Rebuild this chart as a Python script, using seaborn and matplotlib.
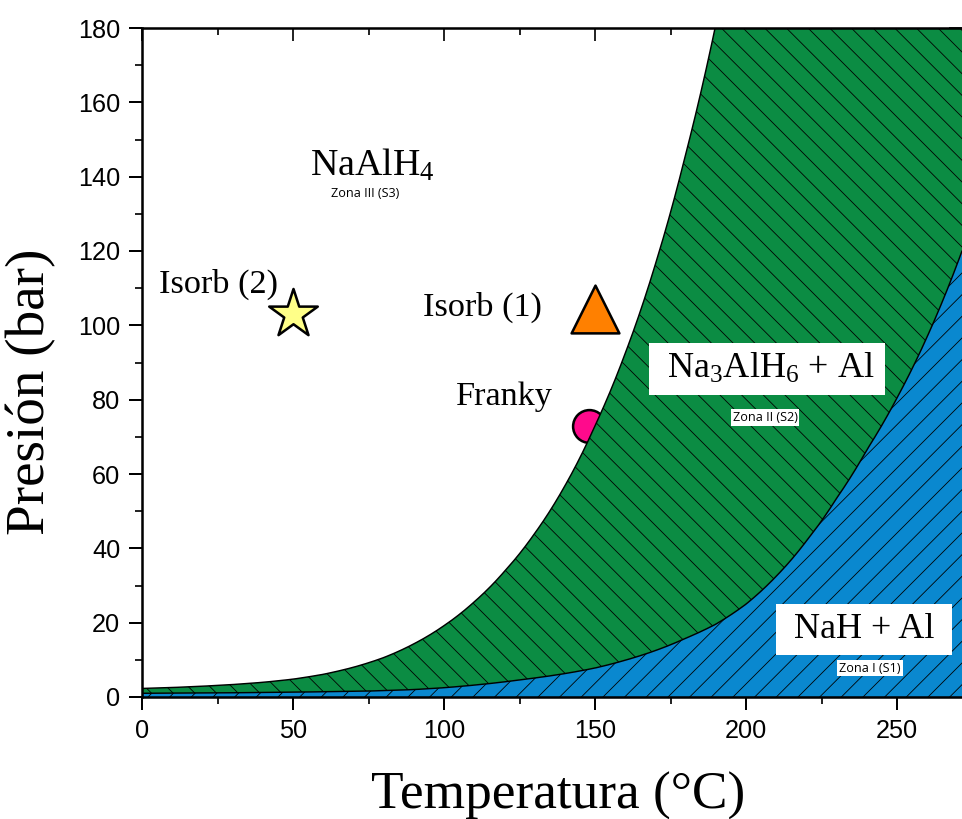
import numpy as np
import matplotlib
matplotlib.use("Agg")
import matplotlib.pyplot as plt
from matplotlib.ticker import MultipleLocator
import seaborn as sns

# values (T in °C, P in bar)
# NaAlH4 <-> Na3AlH6 + Al equilibrium line
t_s3 = [0, 10, 20, 30, 40, 50, 60, 70, 80, 90, 100, 110, 120, 130, 140, 150, 160, 170, 180, 190]
p_s3 = [2.3, 2.55, 2.9, 3.35, 3.95, 4.8, 6.1, 8.0, 10.6, 14.3, 19.2, 25.6, 33.8, 44.0, 56.8, 73, 92.5, 116.5, 146, 181]

# Na3AlH6 <-> NaH + Al equilibrium line
t_s2 = [0, 25, 50, 75, 90, 100, 110, 125, 140, 150, 160, 170, 180, 190, 200, 210, 220, 230, 240, 250, 260, 271.5]
p_s2 = [1.0, 1.1, 1.3, 1.6, 2.0, 2.5, 3.2, 4.6, 6.3, 7.8, 9.9, 12.5, 15.8, 19.6, 25, 32.5, 42, 53.5, 66.5, 80.5, 97, 120]

# operating points
point_names = ["Isorb (2)", "Isorb (1)", "Franky"]
point_t = [50, 150, 148]
point_p = [103, 104.5, 73]

x_ticks = [0, 50, 100, 150, 200, 250]
y_ticks = [0, 20, 40, 60, 80, 100, 120, 140, 160, 180]

green = "#0B8C43"
blue = "#0A88CF"
serif = "Liberation Serif"

sns.set_theme(style="ticks")
plt.rcParams["font.family"] = ["Liberation Sans", "DejaVu Sans"]
plt.rcParams["mathtext.default"] = "regular"
plt.rcParams["hatch.linewidth"] = 0.45
plt.rcParams["text.color"] = "black"
plt.rcParams["axes.labelcolor"] = "black"

fig = plt.figure(figsize=(7.4, 6.3), dpi=130)
ax = fig.add_axes([142 / 962, 122 / 819, 820 / 962, 669 / 819])

# join the read points in log space (pressure grows roughly exponentially)
xs = np.linspace(0, 271.5, 1200)
low = np.exp(np.interp(xs, t_s2, np.log(p_s2)))
high = np.exp(np.interp(xs, t_s3, np.log(p_s3)))
ax.fill_between(xs, 0, low, facecolor=blue, edgecolor="black", hatch="//", linewidth=0, zorder=2)
ax.fill_between(xs, low, high, facecolor=green, edgecolor="black", hatch="\\\\", linewidth=0, zorder=2)

on_s3 = xs <= t_s3[-1]
sns.lineplot(x=xs[on_s3], y=high[on_s3], color="black", linewidth=0.8, ax=ax, zorder=3)
sns.lineplot(x=xs, y=low, color="black", linewidth=0.8, ax=ax, zorder=3)

# markers
sns.scatterplot(x=[point_t[0]], y=[point_p[0]], marker="*", s=800, color="#FFFF88",
                edgecolor="black", linewidth=1.4, zorder=4, ax=ax)
sns.scatterplot(x=[point_t[1]], y=[point_p[1]], marker="^", s=700, color="#FF8000",
                edgecolor="black", linewidth=1.4, zorder=4, ax=ax)
sns.scatterplot(x=[point_t[2]], y=[point_p[2]], marker="o", s=330, color="#FF0A8C",
                edgecolor="black", linewidth=1.4, zorder=1.5, ax=ax)

# point labels
ax.text(5.6, 108.8, point_names[0], family=serif, fontsize=19, va="baseline", ha="left")
ax.text(93.0, 102.6, point_names[1], family=serif, fontsize=19, va="baseline", ha="left")
ax.text(104.0, 78.6, point_names[2], family=serif, fontsize=19, va="baseline", ha="left")

# zone labels
ax.text(55.6, 140.2, r"$NaAlH_4$", family=serif, fontsize=21, va="baseline", ha="left")
ax.text(73.8, 135.6, "Zona III (S3)", family="Open Sans", fontsize=7, va="center", ha="center")

ax.text(207, 85.8, r" $Na_3AlH_6$ + Al ", family=serif, fontsize=20, va="baseline", ha="center",
        bbox=dict(boxstyle="square,pad=0.25", facecolor="white", edgecolor="none"), zorder=5)
ax.text(206.3, 75.1, "Zona II (S2)", family="Open Sans", fontsize=7, va="center", ha="center",
        bbox=dict(boxstyle="square,pad=0.15", facecolor="white", edgecolor="none"), zorder=5)

ax.text(239, 15.9, " NaH + Al ", family=serif, fontsize=20, va="baseline", ha="center",
        bbox=dict(boxstyle="square,pad=0.25", facecolor="white", edgecolor="none"), zorder=5)
ax.text(241, 7.8, "Zona I (S1)", family="Open Sans", fontsize=7, va="center", ha="center",
        bbox=dict(boxstyle="square,pad=0.15", facecolor="white", edgecolor="none"), zorder=5)

# axes
ax.set_xlim(0, 271.5)
ax.set_ylim(0, 180)
ax.set_xticks(x_ticks)
ax.set_yticks(y_ticks)
ax.xaxis.set_minor_locator(MultipleLocator(25))
ax.yaxis.set_minor_locator(MultipleLocator(10))
ax.tick_params(which="major", direction="out", length=7, width=1.1, labelsize=14, pad=5, colors="black")
ax.tick_params(which="minor", direction="out", length=4, width=1.1)
ax.spines["right"].set_visible(False)
for side in ["left", "bottom", "top"]:
    ax.spines[side].set_linewidth(1.4)
    ax.spines[side].set_color("black")

top = ax.secondary_xaxis("top")
top.set_xticks(x_ticks)
top.xaxis.set_minor_locator(MultipleLocator(25))
top.tick_params(which="major", direction="in", length=7, width=1.1, labeltop=False)
top.tick_params(which="minor", direction="in", length=4, width=1.1)
top.spines["top"].set_visible(False)

right = ax.secondary_yaxis("right")
right.set_yticks(y_ticks)
right.yaxis.set_minor_locator(MultipleLocator(10))
right.tick_params(which="major", direction="in", length=7, width=1.1, labelright=False)
right.tick_params(which="minor", direction="in", length=4, width=1.1)
right.spines["right"].set_visible(False)

ax.set_xlabel("Temperatura (°C)", family=serif, fontsize=29.5)
ax.set_ylabel("Presión (bar)", family=serif, fontsize=30.5)
ax.xaxis.set_label_coords(0.507, -0.112)
ax.yaxis.set_label_coords(-0.105, 0.456)
ax.xaxis.label.set_va("top")

fig.savefig("out.png", dpi=130)
